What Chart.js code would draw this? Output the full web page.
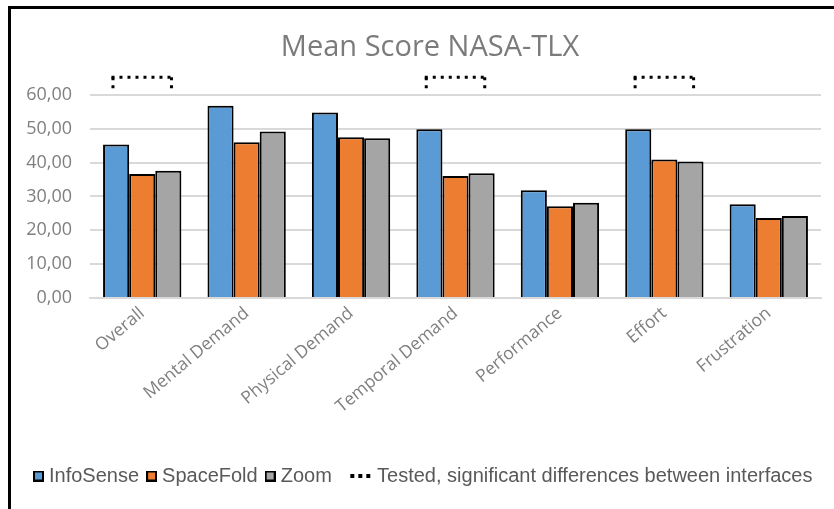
<!DOCTYPE html>
<html>
<head>
<meta charset="utf-8">
<script src="https://cdn.jsdelivr.net/npm/chart.js@4.4.1/dist/chart.umd.min.js"></script>
<style>
  html, body { margin: 0; padding: 0; background: #ffffff; }
  #wrap { position: relative; width: 834px; height: 509px; overflow: hidden; background: #fff; }
  #frame { position: absolute; left: 8px; top: 6px; width: 900px; height: 600px;
           border-left: 3px solid #000; border-top: 3px solid #000; pointer-events: none; }
  #c { position: absolute; left: 0; top: 0; }
</style>
</head>
<body>
<div id="wrap">
  <canvas id="c" width="834" height="509"></canvas>
  <div id="frame"></div>
</div>
<script>
// ---- data ----
const categories = ['Overall', 'Mental Demand', 'Physical Demand', 'Temporal Demand', 'Performance', 'Effort', 'Frustration'];
const infoSense = [45.3, 56.8, 54.8, 49.8, 31.8, 49.8, 27.7];
const spaceFold = [36.6, 46.0, 47.5, 36.0, 27.1, 40.9, 23.6];
const zoomVals  = [37.6, 49.2, 47.2, 36.8, 28.1, 40.3, 24.2];
const seriesNames = ['InfoSense', 'SpaceFold', 'Zoom'];
const yTickLabels = ['0,00', '10,00', '20,00', '30,00', '40,00', '50,00', '60,00'];
const significant = ['Overall', 'Temporal Demand', 'Effort'];
const significantLabel = 'Tested, significant differences between interfaces';
const titleText = 'Mean Score NASA-TLX';

// ---- styles ----
const colors = ['#5b9bd5', '#ed7d31', '#a5a5a5'];

// legend symbols (small canvases used as point styles)
function boxSymbol(fill) {
  const cv = document.createElement('canvas');
  cv.width = 11; cv.height = 11;
  const g = cv.getContext('2d');
  g.fillStyle = '#000';
  g.fillRect(0, 0, 11, 11);
  g.fillStyle = fill;
  g.fillRect(2, 2, 7, 7);
  return cv;
}
const dots = document.createElement('canvas');
dots.width = 54; dots.height = 4;
(function () {
  const g = dots.getContext('2d');
  g.fillStyle = '#000';
  [33, 41, 49].forEach(x => g.fillRect(x, 0, 4, 4));
})();

const bracketPlugin = {
  id: 'brackets',
  afterDatasetsDraw(chart) {
    const xs = chart.scales.x, ys = chart.scales.y;
    const ctx = chart.ctx;
    const half = (xs.getPixelForValue(1) - xs.getPixelForValue(0)) * 0.28;
    const yTop = ys.getPixelForValue(65.2);
    const yBot = ys.getPixelForValue(62.0);
    ctx.save();
    ctx.strokeStyle = '#000';
    ctx.lineWidth = 3;
    ctx.setLineDash([3, 5]);
    const seg = (x1, y1, x2, y2) => {
      ctx.beginPath();
      ctx.moveTo(x1, y1);
      ctx.lineTo(x2, y2);
      ctx.stroke();
    };
    significant.forEach(name => {
      const i = categories.indexOf(name);
      const cx = xs.getPixelForValue(i);
      seg(cx - half - 1.5, yTop, cx + half + 1.5, yTop);
      seg(cx - half, yTop, cx - half, yBot + 2);
      seg(cx + half, yTop, cx + half, yBot + 2);
    });
    ctx.restore();
  }
};

const datasets = [infoSense, spaceFold, zoomVals].map((d, i) => ({
  label: seriesNames[i],
  data: d,
  backgroundColor: colors[i],
  borderColor: '#000',
  borderWidth: 2,
  categoryPercentage: 0.75,
  barPercentage: 1.0
}));

new Chart(document.getElementById('c'), {
  type: 'bar',
  data: { labels: categories, datasets },
  plugins: [bracketPlugin],
  options: {
    responsive: false,
    animation: false,
    layout: { padding: { left: 26, right: 0, top: 0, bottom: 13 } },
    plugins: {
      tooltip: { enabled: false },
      title: {
        display: true,
        text: titleText,
        color: '#7b7b7b',
        font: { family: 'Open Sans', size: 29, weight: 'normal' },
        padding: { top: 30, bottom: 30 }
      },
      legend: {
        position: 'bottom',
        align: 'start',
        labels: {
          usePointStyle: true,
          pointStyleWidth: 1,
          boxHeight: 10,
          padding: 12,
          color: '#595959',
          font: { family: 'Liberation Sans', size: 20 },
          generateLabels(chart) {
            const items = chart.data.datasets.map((ds, i) => ({
              text: ds.label,
              fillStyle: ds.backgroundColor,
              strokeStyle: '#000',
              lineWidth: 0,
              pointStyle: boxSymbol(ds.backgroundColor),
              datasetIndex: i,
              hidden: false,
              fontColor: '#595959'
            }));
            items.push({
              text: '    ' + significantLabel,
              fillStyle: 'rgba(0,0,0,0)',
              strokeStyle: 'rgba(0,0,0,0)',
              lineWidth: 0,
              pointStyle: dots,
              hidden: false,
              fontColor: '#595959'
            });
            return items;
          }
        }
      }
    },
    scales: {
      x: {
        grid: { display: false },
        border: { display: true, color: '#d9d9d9', width: 2 },
        ticks: {
          color: '#7f7f7f',
          font: { family: 'Open Sans', size: 17.5 },
          minRotation: 40,
          maxRotation: 40,
          padding: -3
        },
        afterFit(scale) { scale.height = 156; scale.paddingRight = 13; }
      },
      y: {
        min: 0,
        max: 60,
        ticks: {
          stepSize: 10,
          color: '#7f7f7f',
          font: { family: 'Open Sans', size: 18 },
          padding: 18,
          callback: (v, i) => yTickLabels[i]
        },
        grid: { color: '#d9d9d9', lineWidth: 2, drawTicks: false },
        border: { display: false },
        afterFit(scale) { scale.width = 64; }
      }
    }
  }
});
</script>
</body>
</html>
